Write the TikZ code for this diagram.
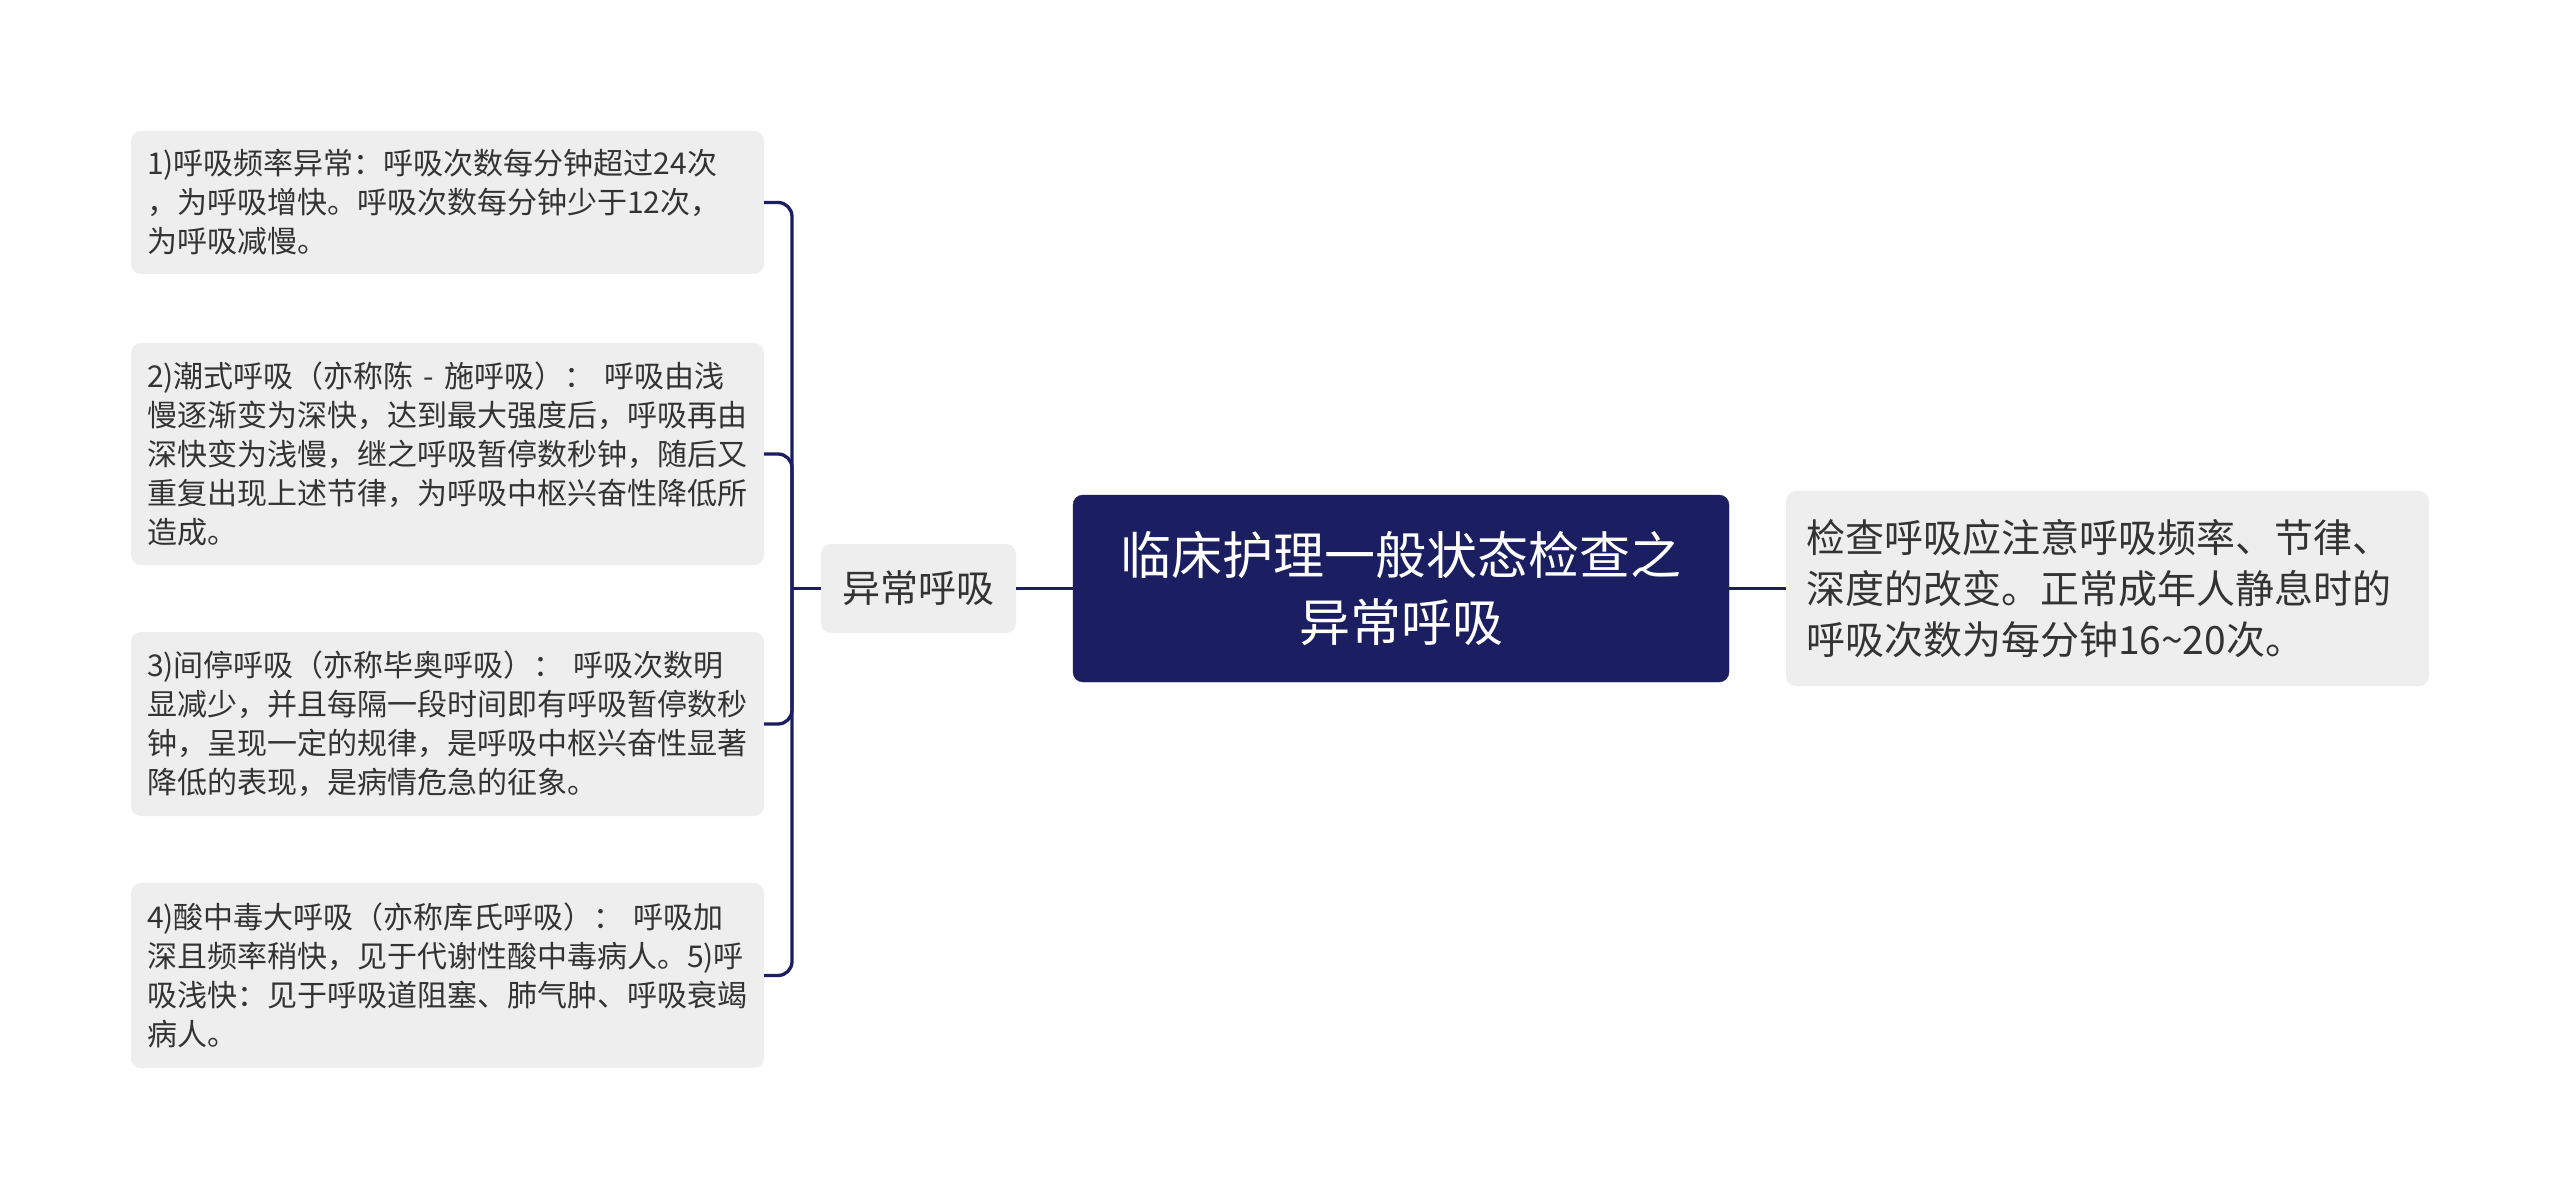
\documentclass[tikz,border=0pt]{standalone}
\usepackage{fontspec}
\setmainfont{Noto Sans CJK SC}
\definecolor{navy}{HTML}{1B1F61}
\definecolor{boxgray}{HTML}{EEEEEE}
\definecolor{txtgray}{HTML}{333333}
\begin{document}
\begin{tikzpicture}[x=1pt,y=-1pt,
  leaf/.style={fill=boxgray, rounded corners=10pt, text=txtgray, align=left,
    text width=601pt, inner xsep=16pt, inner ysep=0pt,
    font=\fontsize{30}{39}\selectfont, anchor=center},
  subbox/.style={fill=boxgray, rounded corners=10pt, text=txtgray, align=center,
    minimum width=195pt, minimum height=89pt, inner sep=0pt,
    font=\fontsize{38}{48}\selectfont, anchor=center},
  rootbox/.style={fill=navy, draw=navy, rounded corners=10pt, text=white, align=center,
    minimum width=656pt, minimum height=187pt, inner sep=0pt,
    font=\fontsize{51}{67}\selectfont, anchor=center},
  notebox/.style={fill=boxgray, rounded corners=10pt, text=txtgray, align=left,
    text width=603pt, inner xsep=20pt, inner ysep=0pt, minimum height=195pt,
    font=\fontsize{39}{51}\selectfont, anchor=center},
  conn/.style={draw=navy, line width=3.3pt},
]
\useasboundingbox (0,0) rectangle (2560,1198);
\fill[white] (0,0) rectangle (2560,1198);

\node[leaf, minimum height=143pt] (b1) at (447.5,202.5)
  {1)呼吸频率异常：呼吸次数每分钟超过24次\\，为呼吸增快。呼吸次数每分钟少于12次，\\为呼吸减慢。};
\node[leaf, minimum height=222pt] (b2) at (447.5,454)
  {2)潮式呼吸（亦称陈 - 施呼吸）： 呼吸由浅\\慢逐渐变为深快，达到最大强度后，呼吸再由\\深快变为浅慢，继之呼吸暂停数秒钟，随后又\\重复出现上述节律，为呼吸中枢兴奋性降低所\\造成。};
\node[leaf, minimum height=184pt] (b3) at (447.5,724)
  {3)间停呼吸（亦称毕奥呼吸）： 呼吸次数明\\显减少，并且每隔一段时间即有呼吸暂停数秒\\钟，呈现一定的规律，是呼吸中枢兴奋性显著\\降低的表现，是病情危急的征象。};
\node[leaf, minimum height=185pt] (b4) at (447.5,975.5)
  {4)酸中毒大呼吸（亦称库氏呼吸）： 呼吸加\\深且频率稍快，见于代谢性酸中毒病人。5)呼\\吸浅快：见于呼吸道阻塞、肺气肿、呼吸衰竭\\病人。};

\node[subbox] (sub) at (918.5,588.5) {异常呼吸};
\node[rootbox] (root) at (1401,588.5) {临床护理一般状态检查之\\异常呼吸};
\node[notebox] (note) at (2107.5,588.5)
  {检查呼吸应注意呼吸频率、节律、\\深度的改变。正常成年人静息时的\\呼吸次数为每分钟16\textasciitilde20次。};

\coordinate (stem) at (792,588.5);
\foreach \b in {b1,b2,b3,b4}
  \draw[conn, rounded corners=14pt] (\b.east) -| (stem);
\draw[conn] (stem) -- (sub.west);
\draw[conn] (sub.east) -- (root.west);
\draw[conn] (root.east) -- (note.west);
\end{tikzpicture}
\end{document}
